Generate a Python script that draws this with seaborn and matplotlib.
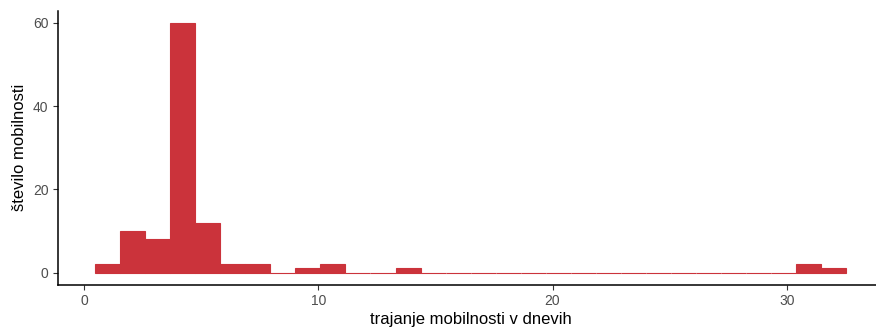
import numpy as np
import pandas as pd
import matplotlib
matplotlib.use("Agg")
import matplotlib.pyplot as plt
import seaborn as sns

# Data: duration of mobility in days and number of mobilities
days = [1, 2, 3, 4, 5, 6, 7, 10, 11, 14, 31, 32]
counts = [2, 10, 8, 60, 12, 2, 2, 1, 2, 1, 2, 1]
x_ticks = [0, 10, 20, 30]
y_ticks = [0, 20, 40, 60]

df = pd.DataFrame({"dni": days, "n": counts})

sns.set_theme(style="ticks")
plt.rcParams["font.family"] = ["Liberation Sans", "DejaVu Sans"]

fig = plt.figure(figsize=(8.76, 3.28), dpi=100)
W, H = 876, 328
left, right, bottom, top = 57.6, 883.6, 285, 10.5
ax = fig.add_axes([left / W, 1 - bottom / H, (right - left) / W, (bottom - top) / H])

# ggplot-style 30 bins centred on the data range
nb = 30
lo, hi = min(days), max(days)
bw = (hi - lo) / (nb - 1)
edges = (lo - bw / 2 + bw * np.arange(nb + 1)).tolist()

red = "#CB333B"
sns.histplot(data=df, x="dni", weights="n", bins=edges, color=red, alpha=1,
             edgecolor=red, linewidth=0.8, ax=ax)
for p in ax.patches:
    p.set_edgecolor(red)
    p.set_facecolor(red)
    p.set_linewidth(0.8)
    p.set_alpha(1)

span = edges[-1] - edges[0]
ax.set_xlim(edges[0] - 0.05 * span, edges[-1] + 0.05 * span)
ax.set_ylim(-3, 63)
ax.set_xticks(x_ticks)
ax.set_yticks(y_ticks)
ax.set_xlabel("trajanje mobilnosti v dnevih", fontsize=12, color="black", labelpad=3)
ax.set_ylabel("število mobilnosti", fontsize=12, color="black", labelpad=4)
ax.tick_params(axis="both", colors="#4D4D4D", labelsize=10, length=3.5, width=0.8,
               labelcolor="#4D4D4D", pad=3)
ax.tick_params(axis="both", color="#333333")
for s in ["top", "right"]:
    ax.spines[s].set_visible(False)
for s in ["left", "bottom"]:
    ax.spines[s].set_linewidth(1.1)
    ax.spines[s].set_color("black")
ax.grid(False)

fig.savefig("out.png", dpi=100)
